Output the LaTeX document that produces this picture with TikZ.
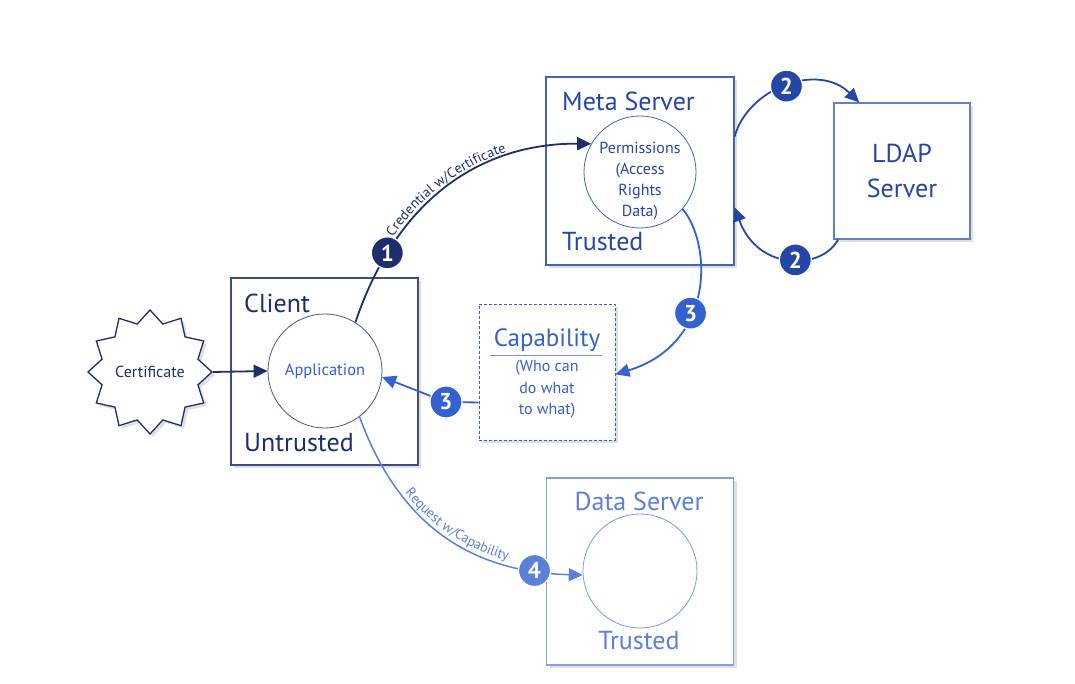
\documentclass[tikz,border=0pt]{standalone}
\usepackage{fontspec}
\setmainfont{PT Sans}
\usetikzlibrary{shapes.geometric,arrows.meta,decorations.text,shadows}
\definecolor{cnavy}{HTML}{1E2D6E}
\definecolor{cmeta}{HTML}{2546A8}
\definecolor{ccap}{HTML}{3461D2}
\definecolor{cdata}{HTML}{5B80DA}
\newcommand\fsz[1]{\fontsize{#1}{#1}\selectfont}
\begin{document}
\begin{tikzpicture}[x=1pt,y=1pt,
  box/.style={draw, line width=1.3pt, fill=white, minimum width=#1, minimum height=#1, inner sep=0pt,
    drop shadow={opacity=0.25, shadow xshift=3pt, shadow yshift=-3pt}},
  ring/.style={circle, draw, line width=0.8pt, minimum size=#1, inner sep=0pt},
  badge/.style={circle, fill=#1, draw=white, line width=1.2pt, minimum size=32pt, inner sep=0pt,
    text=white, font=\fsz{23}\bfseries},
  tip/.style={-{Triangle[length=14pt,width=13pt]}},
  big/.style={font=\fsz{26}, inner sep=0pt},
  small/.style={font=\fsz{16}, inner sep=0pt, align=center},
]
\useasboundingbox (0,0) rectangle (1075,684);

% boxes
\node[box=187, draw=cnavy!85] (client) at (324.5,312.5) {};
\node[box=188, draw=cmeta!85] (meta) at (640,513) {};
\node[box=136, draw=cmeta!70] (ldap) at (902,513) {};
\node[box=136, draw=ccap, densely dashed, line width=0.9pt] (cap) at (547,312) {};
\node[box=187, draw=cdata!75] (data) at (640,112.5) {};

% star
\node[star, star points=12, star point ratio=1.25, minimum size=124pt, inner sep=0pt,
  draw=cnavy, line width=1.3pt, fill=white,
  drop shadow={opacity=0.25, shadow xshift=3pt, shadow yshift=-3pt}] (cert) at (150,312) {};
\node[small, text=cnavy] (certt) at (150,312) {Certificate};

% circles
\node[ring=114, draw=cnavy!80, text=ccap, font=\fsz{16.5}] (app) at (325,313) {Application};
\node[ring=112, draw=cmeta!85] (perm) at (640,512) {};
\node[small, text=cmeta, align=center] (permt) at (640,503) {Permissions\\[5pt](Access\\[5pt]Rights\\[5pt]Data)};
\node[ring=114, draw=cdata!80] (dcirc) at (640,113) {};

% box labels
\node[big, text=cnavy, anchor=base west] (tclient) at (244,371) {Client};
\node[big, text=cnavy, anchor=base west] (tuntr) at (244,232) {Untrusted};
\node[big, text=cmeta, anchor=base west] (tmeta) at (562,573) {Meta Server};
\node[big, text=cmeta, anchor=base west] (tmtr) at (562,433) {Trusted};
\node[big, text=cmeta, anchor=base] (tldap1) at (902,521) {LDAP};
\node[big, text=cmeta, anchor=base] (tldap2) at (902,486) {Server};
\node[font=\fsz{25}, inner sep=0pt, text=ccap, anchor=base] (tcap) at (547,337) {Capability};
\draw[ccap!70, line width=0.8pt] (490,329) -- (602,329);
\node[small, text=ccap, anchor=base] (tcap1) at (547,312) {(Who can};
\node[small, text=ccap, anchor=base] (tcap2) at (547,290) {do what};
\node[small, text=ccap, anchor=base] (tcap3) at (547,269) {to what)};
\node[big, text=cdata, anchor=base] (tdata) at (639,173) {Data Server};
\node[big, text=cdata, anchor=base] (tdtr) at (639,34) {Trusted};

% connectors
\draw[cnavy, line width=1.8pt, tip] (cert.east) -- (app.west);

\draw[cnavy, line width=1.8pt, tip,
  postaction={decorate, decoration={text along path, text color=cnavy,
    text={|\fsz{14}|Credential w/Certificate}, text align={align=center, left indent=8pt}, raise=4pt}}]
  (app.58) .. controls (400,494) and (490,541) .. node[badge=cnavy, pos=0.2] (b1) {1} (perm.150);

\draw[cmeta, line width=1.8pt, tip]
  (meta.20) .. controls (748,596) and (818,622) .. node[badge=cmeta, pos=0.5] (b2a) {2} (ldap.122);
\draw[cmeta, line width=1.8pt, tip]
  (ldap.227) .. controls (822,414) and (758,412) .. node[badge=cmeta, pos=0.45] (b2b) {2} (meta.-21);

\draw[ccap, line width=1.8pt, tip]
  (perm.-41) .. controls (712,440) and (715,340) .. node[badge=ccap, pos=0.6] (b3a) {3} (cap.-2);

\coordinate (k3) at (446,282);
\draw[ccap, line width=1.8pt, tip] (cap.204) -- (k3) -- (app.-6);
\node[badge=ccap] (b3b) at (k3) {3};

\draw[cdata, line width=1.5pt, tip,
  postaction={decorate, decoration={text along path, text color=cdata,
    text={|\fsz{14}|Request w/Capability}, text align={align=center, left indent=12pt}, raise=4pt}}]
  (app.-53) .. controls (395,170) and (460,112) .. node[badge=cdata, pos=0.86] (b4) {4} (dcirc.184);
\end{tikzpicture}
\end{document}
